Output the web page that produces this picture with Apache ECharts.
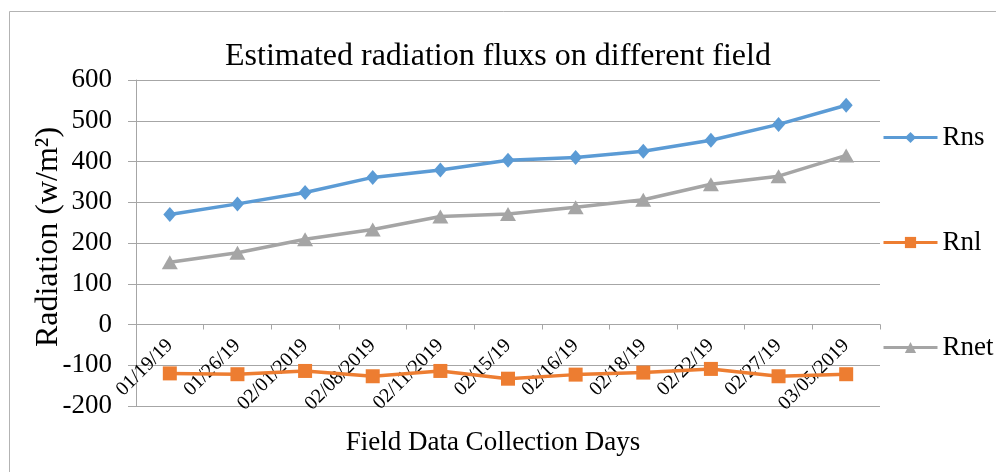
<!DOCTYPE html>
<html>
<head>
<meta charset="utf-8">
<script src="https://cdn.jsdelivr.net/npm/echarts@6/dist/echarts.min.js"></script>
<style>
  html, body { margin: 0; padding: 0; background: #fff; }
  #chart { width: 996px; height: 472px; }
</style>
</head>
<body>
<div id="chart"></div>
<script>
// field days on the x axis
const days = ['01/19/19', '01/26/19', '02/01/2019', '02/08/2019', '02/11/2019', '02/15/19',
  '02/16/19', '02/18/19', '02/22/19', '02/27/19', '03/05/2019']

// radiation values (w/m2)
const rns = [270, 296, 324, 361, 379, 403, 410, 425, 452, 491, 538]
const rnl = [-120, -122, -114, -127, -114, -133, -123, -118, -109, -127, -122]
const rnet = [153, 176, 209, 233, 265, 271, 288, 306, 344, 364, 415]

const yMin = -200
const yMax = 600
const yStep = 100

const font = 'Liberation Serif, Times New Roman, serif'
const gridColor = '#a6a6a6'

// plot box
const gridTop = 80
const gridBottom = 66
const plotH = 472 - gridTop - gridBottom
// move the category axis up so it sits on the zero line
const zeroOffset = -plotH * (0 - yMin) / (yMax - yMin)

const chart = echarts.init(document.getElementById('chart'))

chart.setOption({
  animation: false,
  backgroundColor: '#fff',
  textStyle: { fontFamily: font, color: '#000' },
  title: {
    text: 'Estimated radiation fluxs on different field',
    left: 'center',
    top: 36,
    textStyle: { fontFamily: font, fontSize: 32, fontWeight: 'normal', color: '#000' },
  },
  legend: {
    orient: 'vertical',
    left: 882,
    top: 124,
    padding: 0,
    itemWidth: 54,
    itemHeight: 14,
    itemGap: 78,
    lineStyle: { width: 3 },
    textStyle: { fontFamily: font, fontSize: 27, color: '#000' },
    data: ['Rns', 'Rnl', 'Rnet'],
  },
  grid: { left: 136, right: 116, top: gridTop, bottom: gridBottom },
  xAxis: {
    type: 'category',
    data: days,
    boundaryGap: true,
    offset: zeroOffset,
    axisLine: { onZero: false, lineStyle: { color: gridColor, width: 1 } },
    axisTick: { show: true, length: 5, lineStyle: { color: gridColor } },
    axisLabel: { rotate: 45, margin: 18, fontSize: 20, fontFamily: font, color: '#000', interval: 0 },
    splitLine: { show: false },
  },
  yAxis: {
    type: 'value',
    min: yMin,
    max: yMax,
    interval: yStep,
    axisLine: { show: true, lineStyle: { color: gridColor, width: 1 } },
    axisTick: { show: true, length: 8, lineStyle: { color: gridColor } },
    axisLabel: { margin: 24, fontSize: 27, fontFamily: font, color: '#000' },
    splitLine: { lineStyle: { color: gridColor, width: 1 } },
  },
  graphic: [
    {
      type: 'rect',
      shape: { x: 9.5, y: 11.5, width: 1000, height: 500 },
      style: { fill: 'none', stroke: '#b3b3b3', lineWidth: 1 },
      z: -1,
    },
    {
      type: 'text',
      x: 49,
      y: 237,
      rotation: Math.PI / 2,
      style: {
        text: 'Radiation (w/m²)',
        font: '32px ' + font,
        fill: '#000',
        align: 'center',
        verticalAlign: 'middle',
      },
    },
    {
      type: 'text',
      x: 493,
      y: 443,
      style: {
        text: 'Field Data Collection Days',
        font: '27px ' + font,
        fill: '#000',
        align: 'center',
        verticalAlign: 'middle',
      },
    },
  ],
  series: [
    {
      name: 'Rns',
      type: 'line',
      data: rns,
      symbol: 'diamond',
      symbolSize: [13, 15],
      lineStyle: { width: 3.5, color: '#5b9bd5' },
      itemStyle: { color: '#5b9bd5' },
    },
    {
      name: 'Rnl',
      type: 'line',
      data: rnl,
      symbol: 'rect',
      symbolSize: 14,
      lineStyle: { width: 3.5, color: '#ed7d31' },
      itemStyle: { color: '#ed7d31' },
    },
    {
      name: 'Rnet',
      type: 'line',
      data: rnet,
      symbol: 'triangle',
      symbolSize: [16, 14],
      lineStyle: { width: 3.5, color: '#a5a5a5' },
      itemStyle: { color: '#a5a5a5' },
    },
  ],
})
</script>
</body>
</html>
